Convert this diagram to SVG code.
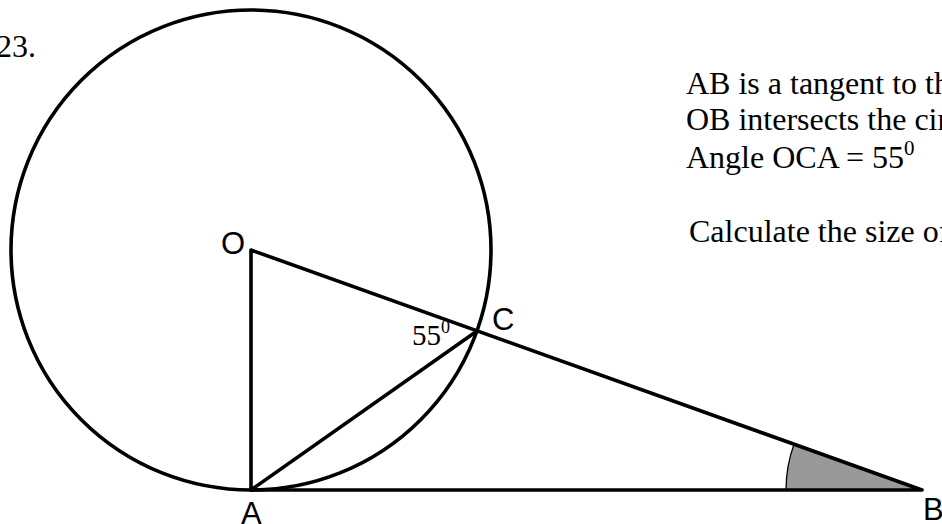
<svg xmlns="http://www.w3.org/2000/svg" width="942" height="524" viewBox="0 0 942 524">
<style>
.ln{stroke:#000;stroke-width:3.6;fill:none;stroke-linecap:round;stroke-linejoin:round}
.tm{font-family:"Liberation Serif","Times New Roman",serif;fill:#000}
.ar{font-family:"Liberation Sans",Arial,sans-serif;fill:#000;font-size:31px}
</style>
<rect width="942" height="524" fill="#fff"/>
<text class="tm" x="-4" y="57" font-size="32">23.</text>
<g id="shade">
<path d="M922,490 L786,490 A136,136 0 0 1 794,444.2 Z" fill="#999" stroke="#000" stroke-width="1.3"/>
</g>
<g id="circle">
<circle class="ln" cx="251" cy="250" r="240"/>
</g>
<g id="lines">
<path class="ln" d="M251,490 L251,250 L922,490 Z"/>
<path class="ln" d="M251,490 L477,331"/>
</g>
<g id="labels">
<text class="ar" x="221" y="254">O</text>
<text class="ar" x="492" y="330">C</text>
<text class="ar" x="241" y="524">A</text>
<text class="ar" x="923" y="520">B</text>
<text class="tm" x="412" y="345" font-size="29">55<tspan font-size="18" dy="-12">0</tspan></text>
</g>
<g id="text">
<text class="tm" x="686" y="94" font-size="32">AB is a tangent to th</text>
<text class="tm" x="686" y="130" font-size="32">OB intersects the cir</text>
<text class="tm" x="686" y="168" font-size="32">Angle OCA = 55<tspan font-size="21" dy="-13">0</tspan></text>
<text class="tm" x="689" y="242" font-size="32">Calculate the size of</text>
</g>
</svg>
